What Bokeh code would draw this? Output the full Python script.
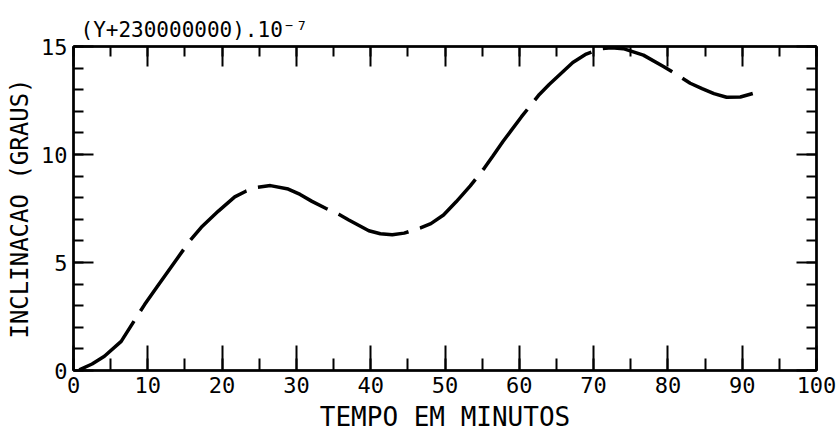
from bokeh.plotting import figure
from bokeh.models import LinearAxis, SingleIntervalTicker, Range1d, ColumnDataSource, CustomJSTickFormatter, Title
from bokeh.embed import file_html
from bokeh.resources import INLINE

# --- data ---
tempo = [0.78, 2.5, 4.16, 6.42, 8.45, 9.57, 11.3, 13.1, 15.65, 17.2, 19.5, 21.7, 23.2, 24.7,
         26.5, 28.9, 30.5, 32.1, 34.0, 35.7, 37.05, 39.75, 41.3, 42.9, 44.5, 46.7, 48.1,
         49.8, 51.5, 53.4, 55.3, 56.4, 57.8, 60.3, 62.7, 64.05, 67.2, 69.0, 70.8, 72.4,
         74.0, 76.7, 79.4, 81.2, 83.0, 84.6, 86.2, 87.9, 89.75, 91.8]
inclinacao = [0.03, 0.3, 0.66, 1.35, 2.45, 3.05, 3.9, 4.77, 6.0, 6.63, 7.38, 8.04, 8.3, 8.48,
              8.56, 8.4, 8.15, 7.83, 7.5, 7.23, 6.97, 6.47, 6.33, 6.28, 6.36, 6.6, 6.8,
              7.2, 7.81, 8.55, 9.37, 9.91, 10.6, 11.75, 12.78, 13.25, 14.26, 14.65, 14.89, 14.94,
              14.9, 14.6, 14.07, 13.7, 13.3, 13.05, 12.82, 12.65, 12.66, 12.86]

x_label = "TEMPO EM MINUTOS"
y_label = "INCLINACAO (GRAUS)"
title_text = "(Y+230000000).10\u207b\u2077"

FONT = "DejaVu Sans Mono"

p = figure(width=840, height=436, output_backend="svg", toolbar_location=None,
           x_range=Range1d(0, 100), y_range=Range1d(0, 15),
           x_axis_location=None, y_axis_location=None,
           min_border_left=73, min_border_right=24, min_border_top=46, min_border_bottom=66)
p.grid.visible = False
p.outline_line_color = "black"
p.outline_line_width = 2
p.background_fill_color = "white"
p.border_fill_color = "white"

src = ColumnDataSource(dict(x=tempo, y=inclinacao))
p.line("x", "y", source=src, line_color="black", line_width=3.5, line_dash="75 12")


def style(ax, major_in, minor_in, show_labels):
    ax.major_tick_in = major_in
    ax.major_tick_out = 0
    ax.minor_tick_in = minor_in
    ax.minor_tick_out = 0
    ax.axis_line_color = "black"
    ax.axis_line_width = 2.5
    ax.major_tick_line_color = "black"
    ax.major_tick_line_width = 2
    ax.minor_tick_line_color = "black"
    ax.minor_tick_line_width = 2
    if show_labels:
        ax.major_label_text_font = FONT
        ax.major_label_text_font_size = "22px"
        ax.major_label_text_color = "black"
    else:
        ax.formatter = CustomJSTickFormatter(code="return ''")
        ax.major_label_text_font_size = "1px"
        ax.major_label_standoff = 0


xb = LinearAxis(ticker=SingleIntervalTicker(interval=10, num_minor_ticks=2))
style(xb, 25, 12, True)
xb.major_label_standoff = 6
xb.axis_label = x_label
xb.axis_label_text_font = FONT
xb.axis_label_text_font_size = "26px"
xb.axis_label_text_font_style = "normal"
xb.axis_label_text_color = "black"
xb.axis_label_standoff = 6
p.add_layout(xb, "below")

xt = LinearAxis(ticker=SingleIntervalTicker(interval=10, num_minor_ticks=2))
style(xt, 20, 10, False)
p.add_layout(xt, "above")

yl = LinearAxis(ticker=SingleIntervalTicker(interval=5, num_minor_ticks=5))
style(yl, 20, 10, True)
yl.major_label_standoff = 6
yl.axis_label = y_label
yl.axis_label_text_font = FONT
yl.axis_label_text_font_size = "24px"
yl.axis_label_text_font_style = "normal"
yl.axis_label_text_color = "black"
yl.axis_label_standoff = 4
p.add_layout(yl, "left")

yr = LinearAxis(ticker=SingleIntervalTicker(interval=5, num_minor_ticks=5))
style(yr, 20, 10, False)
p.add_layout(yr, "right")

t = Title(text=title_text, align="left", offset=7, standoff=9,
          text_font=FONT, text_font_size="21px", text_font_style="normal", text_color="black")
p.add_layout(t, "above")

open("out.html", "w").write(file_html(p, INLINE))
